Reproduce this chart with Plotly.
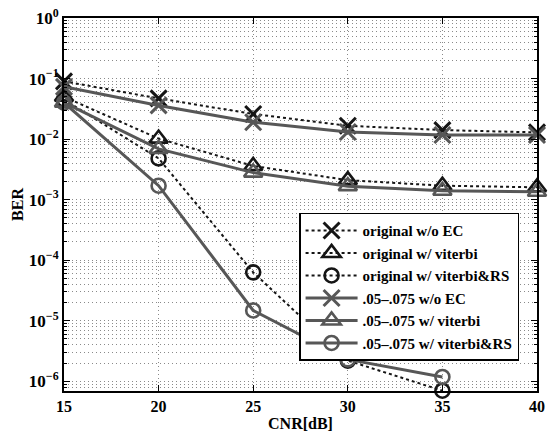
import plotly.graph_objects as go

# CNR sweep (dB)
cnr = [15, 20, 25, 30, 35, 40]

# Bit error rates per configuration
ber_orig_noec = [0.090, 0.047, 0.026, 0.0166, 0.0141, 0.0129]
ber_orig_vit = [0.050, 0.0102, 0.0036, 0.0021, 0.0017, 0.0016]
ber_orig_vitrs_x = [15, 20, 25, 30, 35]
ber_orig_vitrs = [0.045, 0.0048, 6.3e-5, 2.2e-6, 7.0e-7]
ber_mod_noec = [0.073, 0.036, 0.019, 0.0131, 0.0117, 0.0117]
ber_mod_vit = [0.040, 0.0069, 0.0028, 0.00167, 0.0014, 0.00135]
ber_mod_vitrs_x = [15, 20, 25, 30, 35]
ber_mod_vitrs = [0.040, 0.0017, 1.48e-5, 2.3e-6, 1.18e-6]

names = [
    "original w/o EC",
    "original w/ viterbi",
    "original w/ viterbi&RS",
    ".05\u2013.075 w/o EC",
    ".05\u2013.075 w/ viterbi",
    ".05\u2013.075 w/ viterbi&RS",
]

ytick_vals = [1, 1e-1, 1e-2, 1e-3, 1e-4, 1e-5, 1e-6]
ytick_text = ["10<sup>0</sup>", "10<sup>\u22121</sup>", "10<sup>\u22122</sup>",
              "10<sup>\u22123</sup>", "10<sup>\u22124</sup>", "10<sup>\u22125</sup>",
              "10<sup>\u22126</sup>"]
xtick_vals = [15, 20, 25, 30, 35, 40]
xtick_text = ["15", "20", "25", "30", "35", "40"]

DARK = "#151515"
GRAY = "#575757"
FONT = "Liberation Serif"

fig = go.Figure()

series = [
    (cnr, ber_orig_noec, "x-thin-open", 16, DARK, "dot", 2, 3),
    (cnr, ber_orig_vit, "triangle-up-open", 16, DARK, "dot", 2, 2.6),
    (ber_orig_vitrs_x, ber_orig_vitrs, "circle-open", 14, DARK, "dot", 2, 2.6),
    (cnr, ber_mod_noec, "x-thin-open", 16, GRAY, "solid", 3, 3),
    (cnr, ber_mod_vit, "triangle-up-open", 16, GRAY, "solid", 3, 2.6),
    (ber_mod_vitrs_x, ber_mod_vitrs, "circle-open", 14, GRAY, "solid", 3, 2.6),
]

for (xs, ys, sym, sz, col, dash, lw, mlw), name in zip(series, names):
    fig.add_trace(go.Scatter(
        x=xs, y=ys, name="<b>" + name + "</b>", mode="lines+markers",
        line=dict(color=col, dash=dash, width=lw),
        marker=dict(symbol=sym, size=sz, color=col, line=dict(color=col, width=mlw)),
        cliponaxis=False,
    ))

minor_vals = [m * 10.0 ** k for k in range(-7, 0) for m in range(2, 10)]

axis_common = dict(
    showline=True, linecolor="black", linewidth=2, mirror="ticks",
    ticks="inside", tickcolor="black", tickwidth=1, ticklen=6,
    showgrid=True, gridcolor="#8a8a8a", gridwidth=1, griddash="1px,3px",
    zeroline=False,
)

fig.update_xaxes(
    range=[15, 40], tickmode="array", tickvals=xtick_vals,
    ticktext=["<b>" + t + "</b>" for t in xtick_text],
    tickfont=dict(family=FONT, size=16, color="black"),
    title=dict(text="<b>CNR[dB]</b>", font=dict(family=FONT, size=16, color="black"), standoff=4),
    **axis_common,
)
fig.update_yaxes(
    type="log", range=[-6.16, 0], tickmode="array",
    tickvals=ytick_vals, ticktext=["<b>" + t + "</b>" for t in ytick_text],
    tickfont=dict(family=FONT, size=17, color="black"),
    minor=dict(tickmode="array", tickvals=minor_vals, ticks="inside", ticklen=3,
               tickcolor="black", showgrid=True, gridcolor="#8a8a8a",
               griddash="1px,3px", gridwidth=1),
    title=dict(text="<b>BER</b>", font=dict(family=FONT, size=16, color="black"), standoff=1),
    **axis_common,
)

fig.update_layout(
    width=551, height=436,
    margin=dict(l=64, r=6, t=15, b=42),
    paper_bgcolor="white", plot_bgcolor="white",
    font=dict(family=FONT, color="black"),
    legend=dict(
        x=0.497, y=0.478, xanchor="left", yanchor="top",
        bgcolor="white", bordercolor="black", borderwidth=1.5,
        font=dict(family=FONT, size=15, color="black"),
        itemwidth=52, tracegroupgap=0,
    ),
    showlegend=True,
)

fig.write_html("out.html", config={"displayModeBar": False})
